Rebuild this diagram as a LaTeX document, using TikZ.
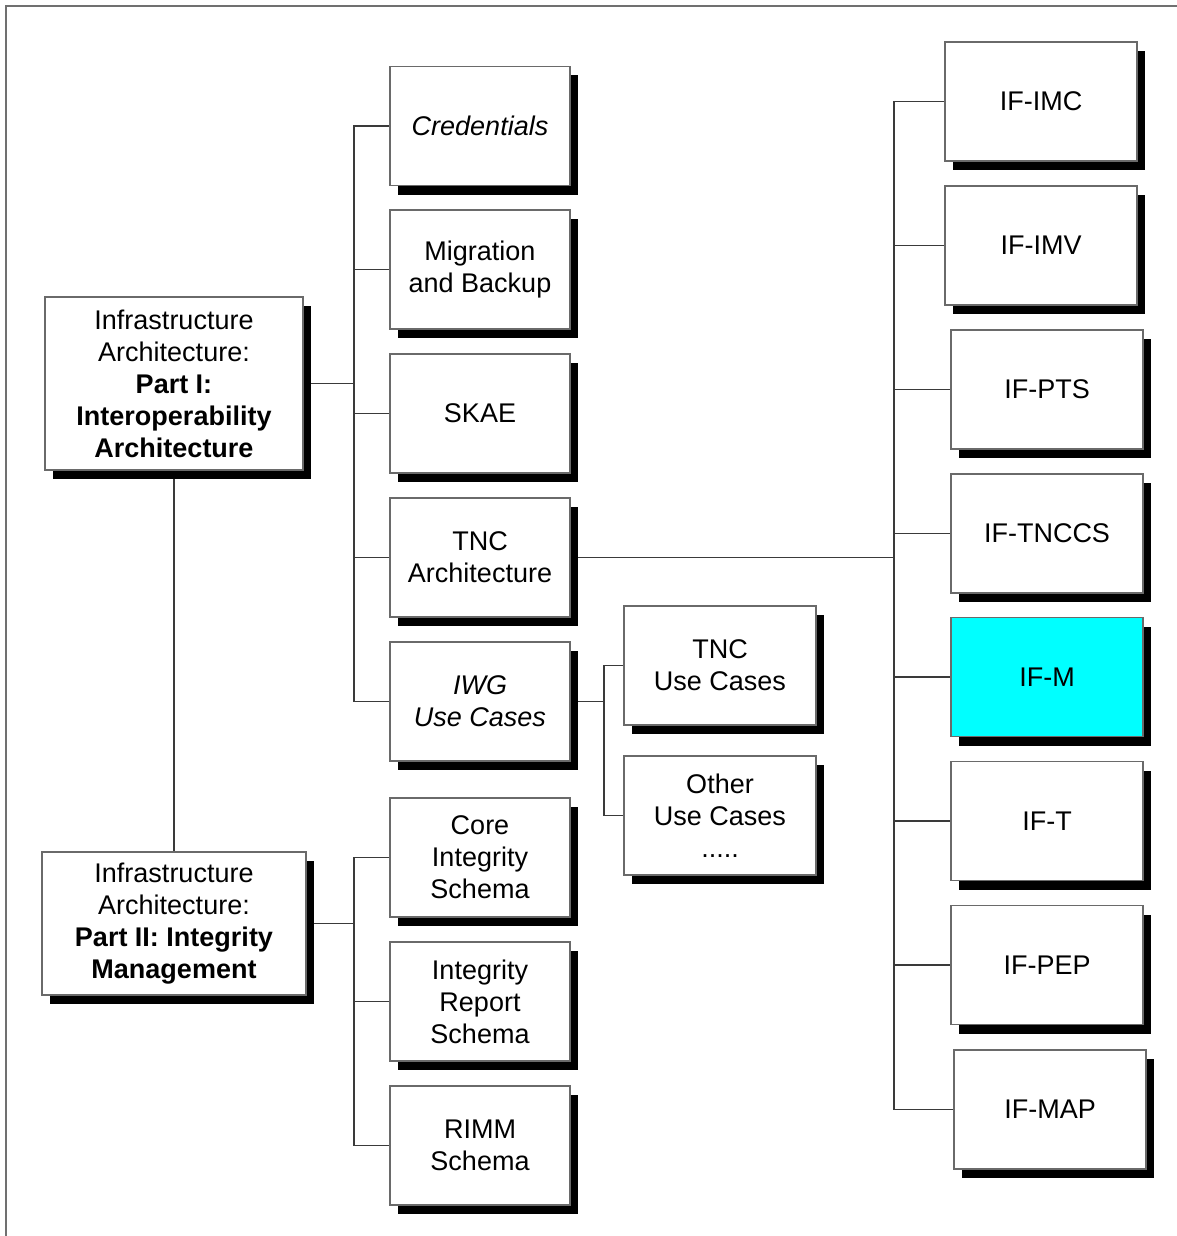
\documentclass[tikz,border=0pt]{standalone}
\usepackage{fontspec}
\setmainfont{Liberation Sans}
\usetikzlibrary{shadows,backgrounds}
\definecolor{iaInk}{HTML}{000000}
\definecolor{iaLine}{HTML}{3A3A3A}
\definecolor{iaBorder}{HTML}{6A6A6A}
\definecolor{iaFrame}{HTML}{707070}
\definecolor{iaCyan}{HTML}{00FFFF}
\tikzset{
  ia box/.style={
    draw=iaBorder,
    fill=white,
    line width=.6pt,
    inner sep=0pt,
    align=center,
    text=iaInk,
    font=\fontsize{13.5}{16}\selectfont,
    drop shadow={shadow xshift=4pt, shadow yshift=-4.5pt, fill=black, opacity=1}
  },
  ia mid/.style={ia box, minimum width=90pt, minimum height=59.5pt},
  ia case/.style={ia box, minimum width=96pt, minimum height=59.5pt},
  ia iface/.style={ia box, minimum width=96pt, minimum height=59.5pt},
  ia accent/.style={fill=iaCyan},
  ia link/.style={draw=iaLine, line width=.6pt},
  ia frame/.style={draw=iaFrame, line width=.8pt}
}

\begin{document}
\begin{tikzpicture}[x=.5pt,y=-.5pt]
  \useasboundingbox (0,0) rectangle (1177,1236);
  \draw[ia frame] (1177,6) -- (6,6) -- (6,1236);

  % parts
  \node[ia box, minimum width=129pt, minimum height=86.5pt] (partone) at (174,383.5)
    {Infrastructure\\Architecture:\\\textbf{Part I:}\\\textbf{Interoperability}\\\textbf{Architecture}};
  \node[ia box, minimum width=132pt, minimum height=71.5pt] (parttwo) at (174,923.5)
    {Infrastructure\\Architecture:\\\textbf{Part II: Integrity}\\\textbf{Management}};

  % middle column
  \node[ia mid] (cred) at (480,126) {\itshape Credentials};
  \node[ia mid] (migr) at (480,269.5) {Migration\\and Backup};
  \node[ia mid] (skae) at (480,413.5) {SKAE};
  \node[ia mid] (tnc) at (480,557.5) {TNC\\Architecture};
  \node[ia mid] (iwg) at (480,701.5) {\itshape IWG\\\itshape Use Cases};
  \node[ia mid] (core) at (480,857.5) {Core\\Integrity\\Schema};
  \node[ia mid] (report) at (480,1001.5) {Integrity\\Report\\Schema};
  \node[ia mid] (rimm) at (480,1145.5) {RIMM\\Schema};

  % use cases
  \node[ia case] (tncuse) at (720,665.5) {TNC\\Use Cases};
  \node[ia case] (otheruse) at (720,815.5) {Other\\Use Cases\\.....};

  % interfaces
  \node[ia iface] (ifimc) at (1041,101.5) {IF-IMC};
  \node[ia iface] (ifimv) at (1041,245.5) {IF-IMV};
  \node[ia iface] (ifpts) at (1047,389.5) {IF-PTS};
  \node[ia iface] (iftnccs) at (1047,533.5) {IF-TNCCS};
  \node[ia iface, ia accent] (ifm) at (1047,677) {IF-M};
  \node[ia iface] (ift) at (1047,821) {IF-T};
  \node[ia iface] (ifpep) at (1047,965) {IF-PEP};
  \node[ia iface] (ifmap) at (1050,1109.5) {IF-MAP};

  \coordinate (busone) at (354,0);
  \coordinate (bustwo) at (354,0);
  \coordinate (buscase) at (604,0);
  \coordinate (busif) at (894,0);

  \begin{scope}[on background layer]
    \draw[ia link] (partone.south) -- (parttwo.north);
    \foreach \child in {cred,migr,skae,tnc,iwg}
      \draw[ia link] (partone.east) -- (partone.east -| busone) |- (\child.west);
    \foreach \child in {core,report,rimm}
      \draw[ia link] (parttwo.east) -- (parttwo.east -| bustwo) |- (\child.west);
    \foreach \child in {tncuse,otheruse}
      \draw[ia link] (iwg.east) -- (iwg.east -| buscase) |- (\child.west);
    \foreach \child in {ifimc,ifimv,ifpts,iftnccs,ifm,ift,ifpep,ifmap}
      \draw[ia link] (tnc.east) -- (tnc.east -| busif) |- (\child.west);
  \end{scope}
\end{tikzpicture}
\end{document}
